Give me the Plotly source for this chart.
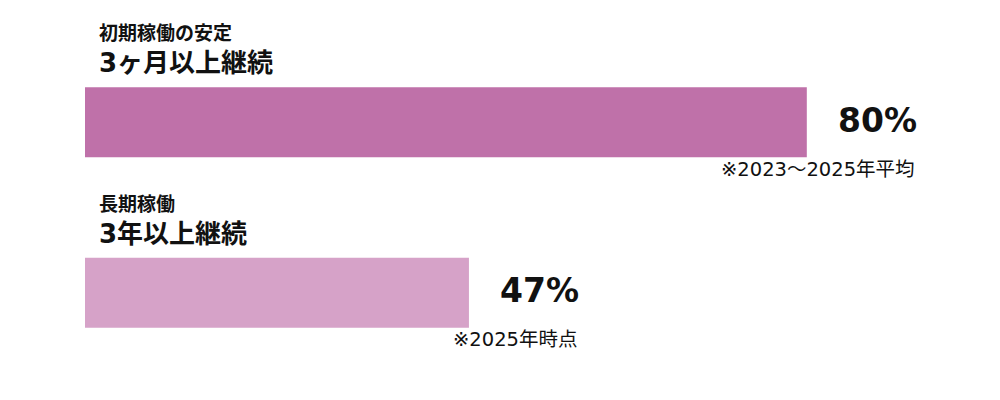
import plotly.graph_objects as go

categories = ["初期稼働の安定", "長期稼働"]
subtitles = ["3ヶ月以上継続", "3年以上継続"]
values = [80, 47]
value_labels = ["80%", "47%"]
notes = ["※2023〜2025年平均", "※2025年時点"]
colors = ["#BF71A9", "#D6A2C8"]

FONT = "DejaVu Sans, Noto Sans CJK JP, sans-serif"

fig = go.Figure()
fig.add_trace(go.Bar(
    y=categories,
    x=values,
    orientation="h",
    marker=dict(color=colors, line=dict(width=0)),
    hoverinfo="skip",
    showlegend=False,
))

annotations = []
for cat, sub, v, lab, note in zip(categories, subtitles, values, value_labels, notes):
    annotations.append(dict(
        x=0, xref="paper", y=cat, yref="y", text="<b>%s</b>" % cat,
        xanchor="left", yanchor="middle", xshift=12, yshift=89,
        showarrow=False, font=dict(family=FONT, size=19, color="#111111"),
    ))
    annotations.append(dict(
        x=0, xref="paper", y=cat, yref="y", text="<b>%s</b>" % sub,
        xanchor="left", yanchor="middle", xshift=12, yshift=59,
        showarrow=False, font=dict(family=FONT, size=26, color="#111111"),
    ))
    annotations.append(dict(
        x=v, xref="x", y=cat, yref="y", text="<b>%s</b>" % lab,
        xanchor="left", yanchor="middle", xshift=29, yshift=2,
        showarrow=False, font=dict(family=FONT, size=33, color="#111111"),
    ))
    annotations.append(dict(
        x=v, xref="x", y=cat, yref="y", text=note,
        xanchor="right", yanchor="middle", xshift=110, yshift=-47,
        showarrow=False, font=dict(family=FONT, size=19.5, color="#111111"),
    ))

fig.update_layout(
    width=1000, height=400,
    margin=dict(l=77, r=150, t=28.5, b=29.5),
    paper_bgcolor="white", plot_bgcolor="white",
    bargap=0.59,
    xaxis=dict(range=[9.5, 85], visible=False, fixedrange=True),
    yaxis=dict(categoryorder="array", categoryarray=categories,
               range=[1.5, -0.5], visible=False, fixedrange=True),
    annotations=annotations,
)

fig.write_html("out.html")
